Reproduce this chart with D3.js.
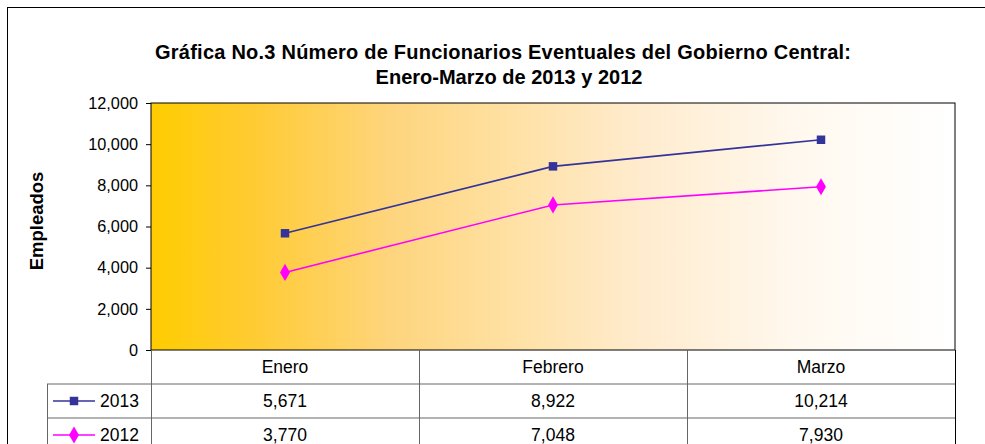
<!DOCTYPE html>
<html>
<head>
<meta charset="utf-8">
<script src="https://cdn.jsdelivr.net/npm/d3@7"></script>
<style>
  body { margin: 0; background: #fff; }
  svg { font-family: "Liberation Sans", Arial, sans-serif; }
</style>
</head>
<body>
<div id="chart"></div>
<script>
const width = 985;
const height = 444;

const months = ["Enero", "Febrero", "Marzo"];
const years = ["2013", "2012"];
const values2013 = [5671, 8922, 10214];
const values2012 = [3770, 7048, 7930];
const yTicks = [0, 2000, 4000, 6000, 8000, 10000, 12000];
const colors = { "2013": "#333399", "2012": "#ff00ff" };

const seriesData = [
  { year: "2013", values: values2013, symbol: d3.symbolSquare, size: 72 },
  { year: "2012", values: values2012, symbol: d3.symbolDiamond, size: 85 }
];

const svg = d3.select("#chart")
  .append("svg")
  .attr("width", width)
  .attr("height", height);

// outer chart border (runs off the right and bottom)
svg.append("rect")
  .attr("x", 7.5).attr("y", 7.5)
  .attr("width", 1000).attr("height", 500)
  .attr("fill", "#fff")
  .attr("stroke", "#000");

const plot = { left: 151, right: 955, top: 103, bottom: 350 };

const x = d3.scaleBand()
  .domain(months)
  .range([plot.left, plot.right]);

const y = d3.scaleLinear()
  .domain([0, 12000])
  .range([plot.bottom, plot.top]);

// gradient background
const defs = svg.append("defs");
const grad = defs.append("linearGradient")
  .attr("id", "bg")
  .attr("x1", "0%").attr("x2", "100%")
  .attr("y1", "0%").attr("y2", "0%");
[[0, "#ffcc00"], [0.12, "#ffcb30"], [0.3, "#fed57e"], [0.45, "#ffe1a4"],
 [0.6, "#ffebcc"], [0.8, "#fff8ee"], [1, "#ffffff"]].forEach(s => {
  grad.append("stop").attr("offset", s[0]).attr("stop-color", s[1]);
});

svg.append("rect")
  .attr("x", plot.left).attr("y", plot.top)
  .attr("width", plot.right - plot.left)
  .attr("height", plot.bottom - plot.top)
  .attr("fill", "url(#bg)")
  .attr("stroke", "#000")
  .attr("stroke-width", 1);

// title
const title = svg.append("text")
  .attr("text-anchor", "middle")
  .attr("font-weight", "bold")
  .attr("font-size", 20)
  .attr("fill", "#000");
title.append("tspan").attr("x", 503).attr("y", 59)
  .attr("textLength", 696).attr("lengthAdjust", "spacing")
  .text("Gráfica No.3 Número de Funcionarios Eventuales del Gobierno Central:");
title.append("tspan").attr("x", 509).attr("y", 84)
  .text("Enero-Marzo de 2013 y 2012");

// y axis
const yAxis = svg.append("g")
  .attr("transform", `translate(${plot.left},0)`)
  .call(d3.axisLeft(y).tickValues(yTicks).tickFormat(d3.format(",")).tickSize(5).tickPadding(8).tickSizeOuter(0));
yAxis.select(".domain").remove();
yAxis.selectAll("text").attr("font-size", 16.3).attr("fill", "#000")
  .attr("font-family", "Liberation Sans, Arial, sans-serif");
yAxis.selectAll("line").attr("stroke", "#000");

svg.append("text")
  .attr("transform", "translate(43,221) rotate(-90)")
  .attr("text-anchor", "middle")
  .attr("font-weight", "bold")
  .attr("font-size", 18.5)
  .text("Empleados");

// lines and markers
const line = d3.line()
  .x((d, i) => x(months[i]) + x.bandwidth() / 2)
  .y(d => y(d));

seriesData.forEach(s => {
  svg.append("path")
    .datum(s.values)
    .attr("d", line)
    .attr("fill", "none")
    .attr("stroke", colors[s.year])
    .attr("stroke-width", 1.6);

  svg.selectAll(null)
    .data(s.values)
    .join("path")
    .attr("transform", (d, i) => `translate(${x(months[i]) + x.bandwidth() / 2},${y(d)})`)
    .attr("d", d3.symbol(s.symbol, s.size))
    .attr("fill", colors[s.year]);
});

// data table
const rows = d3.scaleBand()
  .domain(["cat"].concat(years))
  .range([plot.bottom, plot.bottom + 102]);
const legendLeft = 47;
const table = svg.append("g").attr("font-size", 17.5).attr("fill", "#000");
const gridColor = "#666";

// horizontal lines
table.append("line")
  .attr("x1", legendLeft).attr("x2", plot.right)
  .attr("y1", rows("2013")).attr("y2", rows("2013"))
  .attr("stroke", gridColor);
table.append("line")
  .attr("x1", legendLeft).attr("x2", plot.right)
  .attr("y1", rows("2012")).attr("y2", rows("2012"))
  .attr("stroke", gridColor);
// vertical lines
table.append("line")
  .attr("x1", legendLeft + 0.5).attr("x2", legendLeft + 0.5)
  .attr("y1", rows("2013")).attr("y2", height)
  .attr("stroke", gridColor);
months.forEach(m => {
  table.append("line")
    .attr("x1", x(m) + 0.5).attr("x2", x(m) + 0.5)
    .attr("y1", plot.bottom).attr("y2", height)
    .attr("stroke", gridColor);
});
table.append("line")
  .attr("x1", plot.right + 0.5).attr("x2", plot.right + 0.5)
  .attr("y1", plot.bottom).attr("y2", height)
  .attr("stroke", "#000");

// category labels
table.selectAll(".cat")
  .data(months)
  .join("text")
  .attr("x", d => x(d) + x.bandwidth() / 2)
  .attr("y", rows("cat") + rows.bandwidth() / 2)
  .attr("dy", "0.35em")
  .attr("text-anchor", "middle")
  .text(d => d);

seriesData.forEach(s => {
  const cy = rows(s.year) + rows.bandwidth() / 2;
  table.append("line")
    .attr("x1", 53).attr("x2", 95)
    .attr("y1", cy).attr("y2", cy)
    .attr("stroke", colors[s.year])
    .attr("stroke-width", 1.6);
  table.append("path")
    .attr("transform", `translate(74,${cy})`)
    .attr("d", d3.symbol(s.symbol, s.size))
    .attr("fill", colors[s.year]);
  table.append("text")
    .attr("x", 100).attr("y", cy)
    .attr("dy", "0.35em")
    .text(s.year);

  table.selectAll(null)
    .data(s.values)
    .join("text")
    .attr("x", (d, i) => x(months[i]) + x.bandwidth() / 2)
    .attr("y", cy)
    .attr("dy", "0.35em")
    .attr("text-anchor", "middle")
    .text(d => d3.format(",")(d));
});
</script>
</body>
</html>
